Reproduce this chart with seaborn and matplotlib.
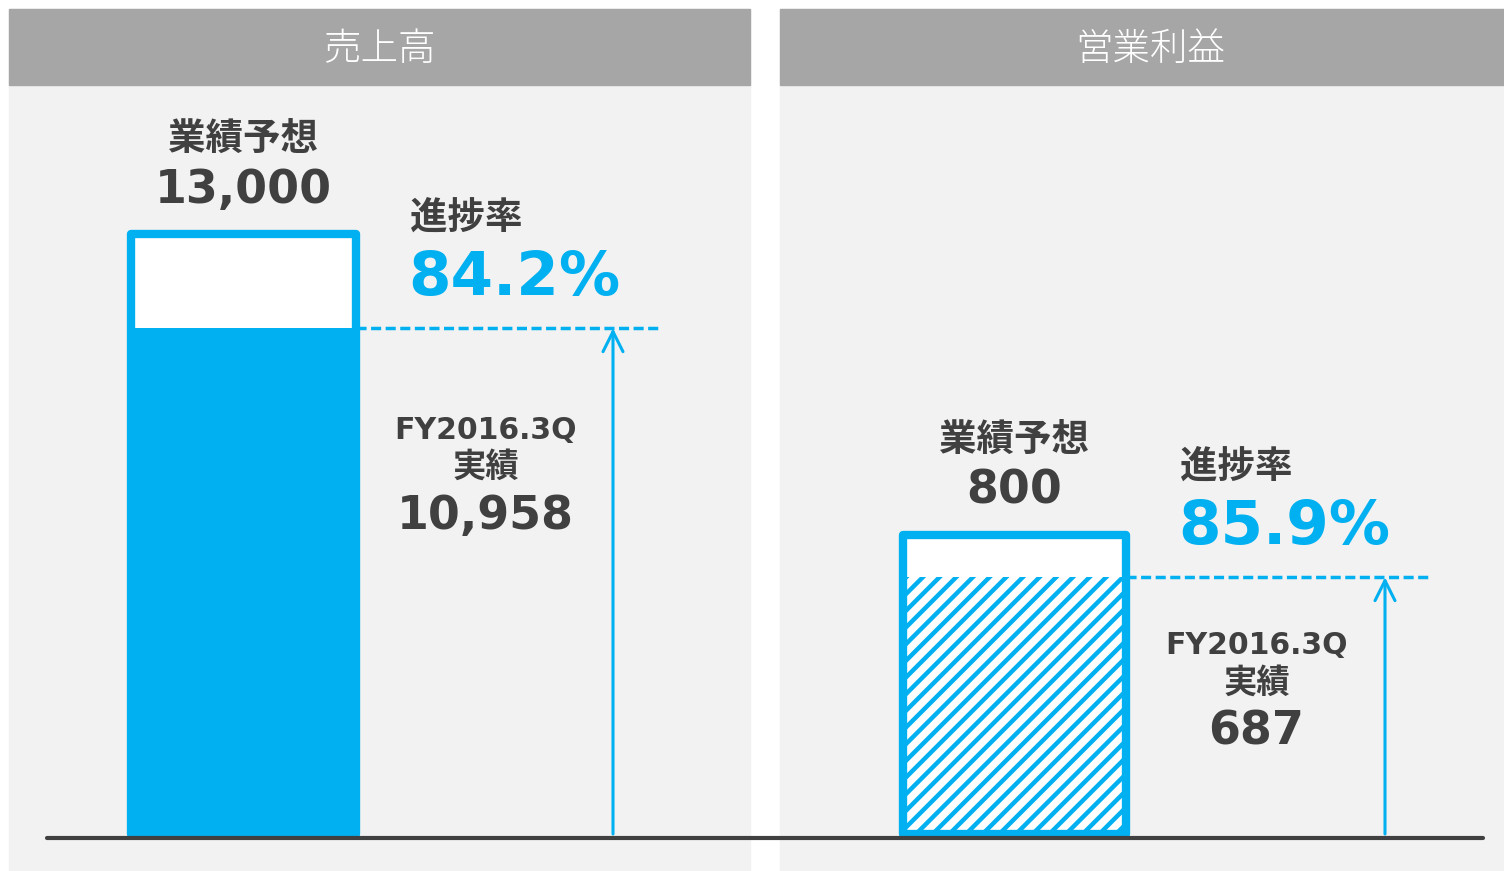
import matplotlib
matplotlib.use('Agg')
import matplotlib.pyplot as plt
from matplotlib.patches import Rectangle
from matplotlib.lines import Line2D
import pandas as pd
import seaborn as sns

# データ
panels = ['売上高', '営業利益']
forecast = [13000, 800]
actual = [10958, 687]
progress = ['84.2%', '85.9%']
forecast_labels = ['13,000', '800']
actual_labels = ['10,958', '687']
period = 'FY2016.3Q'

BLUE = '#00b0f0'
DARK = '#404040'

sns.set_style('white')
plt.rcParams['font.family'] = ['DejaVu Sans', 'Noto Sans CJK JP']
plt.rcParams['hatch.linewidth'] = 3.2
plt.rcParams['hatch.color'] = BLUE

W, H = 1504, 871
fig = plt.figure(figsize=(W / 100, H / 100), dpi=100)
fig.patch.set_facecolor('white')


def fx(x):
    return x / W


def fy(y):
    return 1 - y / H


# レイアウト (px)
panel_x = [(9, 750), (780, 1504)]
header_cx = [379, 1150]
bar_px = [(131, 356, 234), (903, 1126, 535)]  # 左端, 右端, 上端
base_px = 834
arrow_px = [613, 1385]
dash_end_px = [658, 1430]
actual_dy = [318, 102]  # 実績値ラベルの基準線からの高さ

for i in range(2):
    x0, x1 = panel_x[i]
    # 背景とヘッダー
    fig.patches.append(Rectangle((fx(x0), 0), fx(x1) - fx(x0), fy(9),
                                 transform=fig.transFigure, color='#f2f2f2', zorder=-10))
    fig.patches.append(Rectangle((fx(x0), fy(85)), fx(x1) - fx(x0), fy(9) - fy(85),
                                 transform=fig.transFigure, color='#a6a6a6', zorder=-9))
    fig.text(fx(header_cx[i]), fy(49), panels[i], color='white', fontsize=27,
             fontweight='light', family=['Noto Sans CJK JP'], ha='center', va='center')

    ax = fig.add_axes([fx(x0), fy(838), fx(x1) - fx(x0), fy(85) - fy(838)])
    ax.axis('off')

    bl, br, bt = bar_px[i]
    c = (bl + br) / 2
    unit = (br - bl) / 0.8
    s = forecast[i] / (base_px - bt)

    df = pd.DataFrame({'k': [panels[i]], 'forecast': [forecast[i]], 'actual': [actual[i]]})

    # 業績予想 (白)
    sns.barplot(data=df, x='k', y='forecast', color='white', saturation=1,
                width=0.8, linewidth=0, ax=ax)
    # 実績
    if i == 0:
        sns.barplot(data=df, x='k', y='actual', color=BLUE, saturation=1,
                    width=0.8, linewidth=0, ax=ax)
    else:
        sns.barplot(data=df, x='k', y='actual', color='white', saturation=1,
                    width=0.8, linewidth=0, hatch='//', ax=ax)
        ax.patches[-1].set_edgecolor(BLUE)
        ax.patches[-1].set_linewidth(0)
    # 枠線
    sns.barplot(data=df, x='k', y='forecast', color=BLUE, saturation=1,
                width=0.8, ax=ax)
    p = ax.patches[-1]
    p.set_facecolor('none')
    p.set_edgecolor(BLUE)
    p.set_linewidth(6)
    p.set_joinstyle('round')

    ax.set_xlim((x0 - c) / unit, (x1 - c) / unit)
    ax.set_ylim(-(838 - base_px) * s, (base_px - 85) * s)

    # 破線と矢印
    xe = (dash_end_px[i] - c) / unit
    xa = (arrow_px[i] - c) / unit
    ax.plot([0.4, xe], [actual[i], actual[i]], color=BLUE, lw=2.5,
            ls=(0, (2.9, 1.3)), solid_capstyle='butt')
    ax.annotate('', xy=(xa, actual[i]), xytext=(xa, 0),
                arrowprops=dict(arrowstyle='->', color=BLUE, lw=2.2,
                                mutation_scale=36, shrinkA=0, shrinkB=0))

    # ラベル
    ax.annotate('業績予想', xy=(0, forecast[i]), xytext=(0, 94), textcoords='offset pixels',
                ha='center', va='center', fontsize=27, fontweight='bold', color=DARK)
    ax.annotate(forecast_labels[i], xy=(0, forecast[i]), xytext=(0, 44),
                textcoords='offset pixels', ha='center', va='center',
                fontsize=33, fontweight='bold', color=DARK)
    ax.annotate('進捗率', xy=(0.4, actual[i]), xytext=(54, 110), textcoords='offset pixels',
                ha='left', va='center', fontsize=27, fontweight='bold', color=DARK)
    ax.annotate(progress[i], xy=(0.4, actual[i]), xytext=(52, 50), textcoords='offset pixels',
                ha='left', va='center', fontsize=44, fontweight='bold', color=BLUE)
    dy = actual_dy[i]
    ax.annotate(period, xy=(0, 0), xytext=(242, dy + 86), textcoords='offset pixels',
                ha='center', va='center', fontsize=21.5, fontweight='bold', color=DARK)
    ax.annotate('実績', xy=(0, 0), xytext=(242, dy + 49), textcoords='offset pixels',
                ha='center', va='center', fontsize=24, fontweight='bold', color=DARK)
    ax.annotate(actual_labels[i], xy=(0, 0), xytext=(242, dy), textcoords='offset pixels',
                ha='center', va='center', fontsize=33, fontweight='bold', color=DARK)

# 基準線
fig.add_artist(Line2D([fx(47), fx(1483)], [fy(838), fy(838)], transform=fig.transFigure,
                      color=DARK, lw=3))

fig.savefig('out.png', dpi=100)
